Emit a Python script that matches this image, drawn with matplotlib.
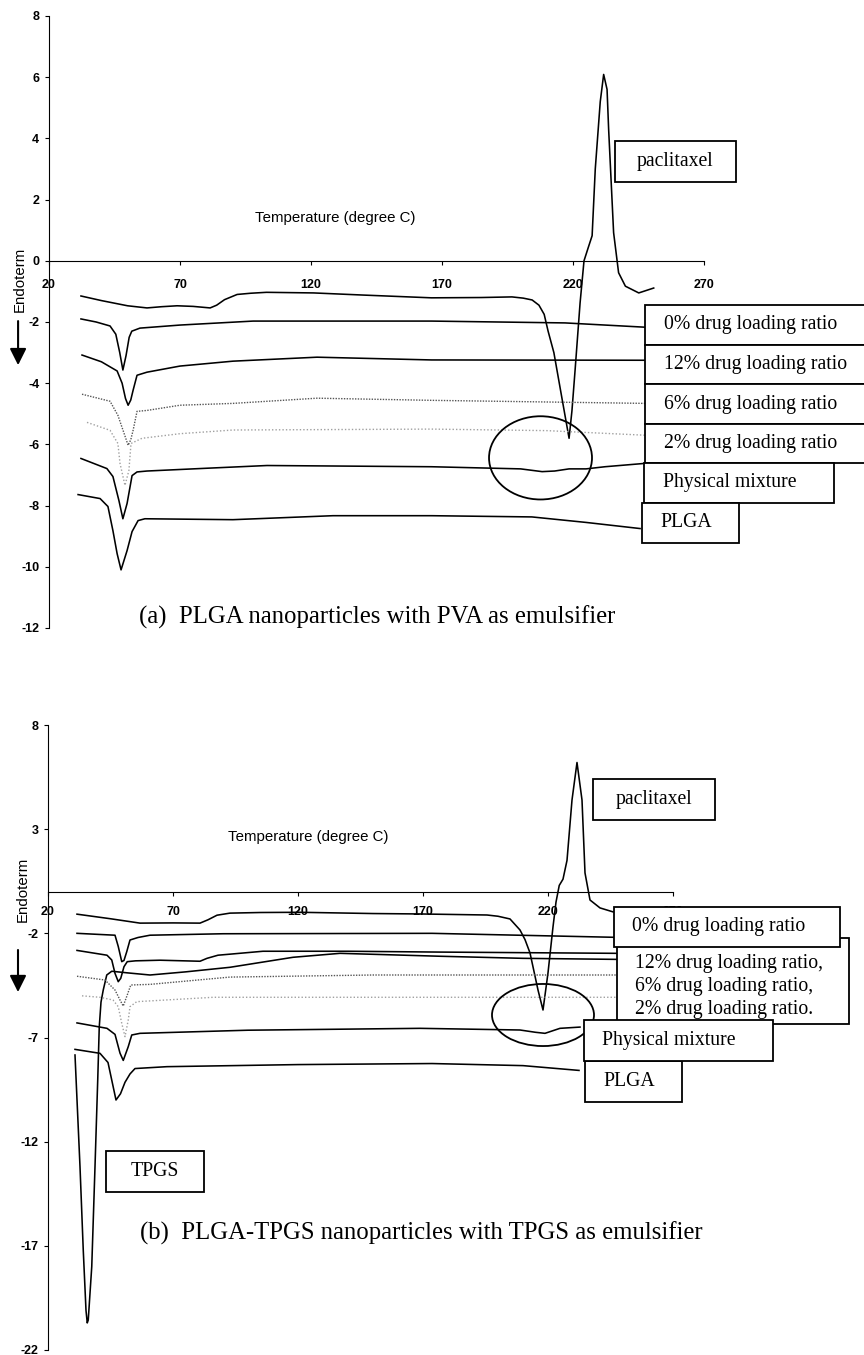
import numpy as np
import matplotlib.pyplot as plt
from matplotlib.patches import Rectangle, Ellipse

plt.rcParams['font.family'] = ['Liberation Sans', 'DejaVu Sans']

# ---- panel (a): PLGA nanoparticles with PVA ----
a_pac_T = [32.2, 40, 50, 57.4, 63, 68.9, 75, 81.5, 84, 87, 91.8, 97, 103, 121, 140, 166, 185,
           196.7, 201, 204.4, 207, 209, 210.5, 212.7, 215.8, 218.5, 219.6, 220.8, 222.7, 224.2,
           226, 227.3, 228.5, 230.4, 231.7, 233, 233.6, 235.5, 237.4, 240, 245.1, 250.8]
a_pac = [-1.15, -1.3, -1.47, -1.54, -1.5, -1.47, -1.49, -1.54, -1.45, -1.27, -1.1, -1.06, -1.03,
         -1.05, -1.12, -1.21, -1.2, -1.18, -1.22, -1.28, -1.45, -1.75, -2.3, -3.0, -4.5, -5.8,
         -4.9, -3.57, -1.38, 0.0, 0.48, 0.82, 3.0, 5.2, 6.09, 5.6, 4.3, 0.92, -0.39, -0.83, -1.05, -0.89]

a_0_T = [32.2, 38, 43.3, 45.5, 47, 48.2, 49.4, 50.6, 51.6, 54.7, 70, 97.9, 166, 217, 247.5]
a_0 = [-1.9, -2.0, -2.13, -2.4, -3.0, -3.57, -3.1, -2.5, -2.3, -2.2, -2.1, -1.97, -1.97, -2.03, -2.17]

a_12_T = [32.6, 40, 46, 47.9, 49.2, 50.2, 51.2, 52.1, 53.6, 57.4, 70, 90.2, 122.3, 166, 247.5]
a_12 = [-3.08, -3.3, -3.6, -4.0, -4.5, -4.72, -4.55, -4.23, -3.74, -3.64, -3.44, -3.28, -3.15, -3.24, -3.25]

a_6_T = [32.6, 43.3, 46.3, 48.5, 50.2, 51.2, 52.1, 53.6, 57.4, 70, 90.2, 122.3, 166, 247.5]
a_6 = [-4.36, -4.59, -5.05, -5.6, -6.03, -5.85, -5.54, -4.92, -4.89, -4.72, -4.66, -4.49, -4.56, -4.66]

a_2_T = [34.5, 43.3, 46.3, 47.1, 49, 50.5, 51.3, 55.5, 70, 90.2, 166, 210, 247.5]
a_2 = [-5.28, -5.54, -5.97, -6.62, -7.34, -6.85, -5.97, -5.8, -5.65, -5.53, -5.5, -5.55, -5.7]

a_pm_T = [32.2, 42.1, 44.4, 46.7, 48.2, 49.8, 51.7, 53.6, 57.4, 80, 103.2, 166, 200, 208.2, 213,
          218.5, 225, 232.2, 247.5]
a_pm = [-6.46, -6.79, -7.05, -7.84, -8.43, -7.93, -7.02, -6.9, -6.87, -6.78, -6.69, -6.73, -6.8,
        -6.89, -6.87, -6.8, -6.8, -6.73, -6.62]

a_plga_T = [31.1, 39.5, 42.5, 44.4, 46, 47.5, 49.8, 51.7, 54, 56.6, 90.2, 128.4, 166, 204.3, 225, 245.6]
a_plga = [-7.64, -7.77, -8.03, -8.82, -9.57, -10.1, -9.47, -8.85, -8.49, -8.43, -8.46, -8.33, -8.33,
          -8.37, -8.55, -8.75]

# ---- panel (b): PLGA-TPGS nanoparticles with TPGS ----
b_pac_T = [31.6, 45, 56.8, 70, 80.8, 84, 87.6, 92.8, 105, 120.8, 150, 168.8, 195.6, 200, 204.8,
           208.8, 210.8, 212.8, 216, 218, 220, 222, 223.2, 224.5, 226, 227.6, 229.6, 231.6, 233.6,
           234.8, 236.8, 240.8, 246]
b_pac = [-1.08, -1.3, -1.51, -1.5, -1.51, -1.35, -1.13, -1.03, -1.0, -0.99, -1.05, -1.07, -1.12,
         -1.18, -1.31, -1.84, -2.3, -2.94, -4.72, -5.68, -3.9, -1.69, -0.5, 0.3, 0.6, 1.5, 4.4, 6.2,
         4.4, 0.9, -0.4, -0.78, -0.97]

b_0_T = [31.6, 40, 46.8, 48.1, 49.5, 50.4, 51.5, 52.8, 56, 60.8, 90, 173.6, 246.4]
b_0 = [-2.0, -2.05, -2.09, -2.63, -3.36, -3.3, -2.88, -2.32, -2.2, -2.09, -2.02, -2.0, -2.19]

b_12_T = [31.6, 43.6, 45.5, 46.8, 48.1, 49.1, 50.4, 51.7, 55, 64.8, 80.8, 83.6, 88, 92.8, 106, 140,
          176.8, 247.6]
b_12 = [-2.82, -3.05, -3.28, -3.92, -4.32, -4.16, -3.6, -3.36, -3.32, -3.29, -3.34, -3.2, -3.05,
        -3.0, -2.86, -2.86, -2.9, -2.96]

b_6_T = [31.6, 42.8, 46.8, 48.8, 50.1, 51.7, 53.1, 60.8, 92.8, 150, 247.6]
b_6 = [-4.06, -4.24, -4.72, -5.2, -5.49, -4.96, -4.48, -4.45, -4.1, -4.0, -4.0]

b_2_T = [33.6, 40.8, 46, 48.1, 49.5, 50.8, 52.1, 52.8, 55.5, 86.1, 150, 247.6]
b_2 = [-5.0, -5.07, -5.2, -5.52, -6.32, -6.96, -6.16, -5.52, -5.28, -5.07, -5.07, -5.07]

b_pm_T = [31.6, 43.6, 46.8, 48.8, 50.1, 52.1, 53.5, 56.8, 100, 168.8, 208.8, 215, 218.8, 224.8, 232.8]
b_pm = [-6.3, -6.56, -6.85, -7.75, -8.1, -7.44, -6.88, -6.8, -6.65, -6.56, -6.64, -6.75, -6.8,
        -6.56, -6.5]

b_plga_T = [30.8, 40.8, 44, 45.6, 47.2, 49, 50.8, 52.8, 54.8, 67.6, 120, 173.6, 210, 232.4]
b_plga = [-7.57, -7.76, -8.2, -9.1, -10.0, -9.7, -9.15, -8.75, -8.49, -8.4, -8.3, -8.25, -8.35, -8.58]

b_tpgs_T = [30.8, 32.8, 34.1, 35.2, 35.7, 36.1, 37.5, 38.8, 39.9, 40.5, 41.2, 42.1, 43.5, 45.5, 52,
            60.8, 75, 92.8, 118, 136.8, 176.8, 210, 247.6]
b_tpgs = [-7.84, -13.2, -17.2, -20.1, -20.7, -20.56, -18.0, -13.2, -9.0, -6.5, -5.3, -4.72, -4.0,
          -3.82, -3.9, -4.0, -3.85, -3.63, -3.15, -2.96, -3.1, -3.2, -3.25]

x_ticks = [20, 70, 120, 170, 220, 270]
a_yticks = [-12, -10, -8, -6, -4, -2, 0, 2, 4, 6, 8]
b_yticks = [-22, -17, -12, -7, -2, 3, 8]

SERIF = ['Liberation Serif', 'DejaVu Serif']
solid = dict(color='black', lw=1.15)
dot_dark = dict(color='#555555', lw=1.0, ls=(0, (1, 1)))
dot_light = dict(color='#a0a0a0', lw=1.0, ls=(0, (1, 1.5)))

fig = plt.figure(figsize=(8.64, 13.55), dpi=100)
ax1 = fig.add_axes([49 / 864, 1 - 628 / 1355, 655 / 864, 612 / 1355])
ax2 = fig.add_axes([48 / 864, 1 - 1350 / 1355, 625 / 864, 625 / 1355])


def style(ax, yticks, xpad):
    ax.set_xlim(20, 270)
    ax.set_ylim(yticks[0], yticks[-1])
    for s in ['top', 'right']:
        ax.spines[s].set_visible(False)
    ax.spines['bottom'].set_position(('data', 0))
    ax.spines['bottom'].set_linewidth(0.8)
    ax.spines['left'].set_linewidth(0.8)
    ax.set_xticks(x_ticks, [str(t) for t in x_ticks])
    ax.set_yticks(yticks, [str(t) for t in yticks])
    ax.tick_params(direction='out', length=3, width=0.8, labelsize=9)
    ax.tick_params(axis='x', pad=xpad)
    ax.tick_params(axis='y', pad=4)
    for lab in ax.get_xticklabels() + ax.get_yticklabels():
        lab.set_fontweight('bold')


def box(ax, x0, x1, y0, y1, text, z=5, center=False, pad=7.2, ty=None):
    ax.add_patch(Rectangle((x0, y1), x1 - x0, y0 - y1, fc='white', ec='black', lw=1.3,
                           clip_on=False, zorder=z))
    if ty is None:
        ty = (y0 + y1) / 2
    if center:
        ax.text((x0 + x1) / 2, ty, text, ha='center', va='center', fontsize=14.2,
                family=SERIF, zorder=z + 0.5, clip_on=False)
    else:
        ax.text(x0 + pad, ty, text, ha='left', va='center', fontsize=14.2,
                family=SERIF, zorder=z + 0.5, clip_on=False, linespacing=1.26)


def endoterm(ax, x, y, ax_x, y_top, y_bot):
    ax.text(x, y, 'Endoterm', rotation=90, ha='center', va='center', fontsize=10.8, clip_on=False)
    ax.annotate('', xy=(ax_x, y_bot), xytext=(ax_x, y_top), annotation_clip=False,
                arrowprops=dict(arrowstyle='-|>,head_length=0.5,head_width=0.25', color='black',
                                lw=1.5, mutation_scale=20, shrinkA=0, shrinkB=0))


# panel (a)
style(ax1, a_yticks, 10)
ax1.plot(a_pac_T, a_pac, **solid)
ax1.plot(a_0_T, a_0, **solid)
ax1.plot(a_12_T, a_12, **solid)
ax1.plot(a_6_T, a_6, **dot_dark)
ax1.plot(a_2_T, a_2, **dot_light)
ax1.plot(a_pm_T, a_pm, **solid)
ax1.plot(a_plga_T, a_plga, **solid)
ax1.add_patch(Ellipse((207.6, -6.44), 39.3, 2.72, fill=False, ec='black', lw=1.3, zorder=4))
box(ax1, 236.0, 282.2, 3.93, 2.56, 'paclitaxel', center=True)
box(ax1, 247.5, 345, -1.44, -2.75, '0% drug loading ratio')
box(ax1, 247.5, 345, -2.75, -4.03, '12% drug loading ratio')
box(ax1, 247.5, 345, -4.03, -5.34, '6% drug loading ratio')
box(ax1, 247.5, 345, -5.34, -6.62, '2% drug loading ratio')
box(ax1, 247.1, 319.6, -6.62, -7.9, 'Physical mixture', z=6)
box(ax1, 246.3, 283.4, -7.9, -9.21, 'PLGA', z=6)
ax1.text(98.6, 1.41, 'Temperature (degree C)', fontsize=10.8, va='center')
endoterm(ax1, 8.9, -0.62, 8.2, -1.97, -3.41)
ax1.text(54.4, -11.64, '(a)  PLGA nanoparticles with PVA as emulsifier', fontsize=17.8,
         family=SERIF, va='center')

# panel (b)
style(ax2, b_yticks, 7)
ax2.plot(b_pac_T, b_pac, **solid)
ax2.plot(b_0_T, b_0, **solid)
ax2.plot(b_12_T, b_12, **solid)
ax2.plot(b_tpgs_T, b_tpgs, **solid)
ax2.plot(b_6_T, b_6, **dot_dark)
ax2.plot(b_2_T, b_2, **dot_light)
ax2.plot(b_pm_T, b_pm, **solid)
ax2.plot(b_plga_T, b_plga, **solid)
ax2.add_patch(Ellipse((218.0, -5.92), 40.8, 2.98, fill=False, ec='black', lw=1.3, zorder=4))
box(ax2, 238.0, 286.8, 5.41, 3.44, 'paclitaxel', center=True)
box(ax2, 247.6, 340.4, -2.22, -6.35,
    '12% drug loading ratio,\n6% drug loading ratio,\n2% drug loading ratio.', z=3, ty=-4.55)
box(ax2, 246.4, 336.8, -0.73, -2.65, '0% drug loading ratio', z=5)
box(ax2, 234.4, 310.0, -6.16, -8.13, 'Physical mixture', z=6)
box(ax2, 234.8, 273.6, -8.13, -10.1, 'PLGA', z=5)
box(ax2, 43.2, 82.4, -12.45, -14.42, 'TPGS', center=True)
ax2.text(92.0, 2.63, 'Temperature (degree C)', fontsize=10.8, va='center')
endoterm(ax2, 10.0, 0.13, 8.0, -2.8, -4.82)
ax2.text(56.8, -16.39, '(b)  PLGA-TPGS nanoparticles with TPGS as emulsifier', fontsize=17.8,
         family=SERIF, va='center')

fig.savefig('out.png', dpi=100)
